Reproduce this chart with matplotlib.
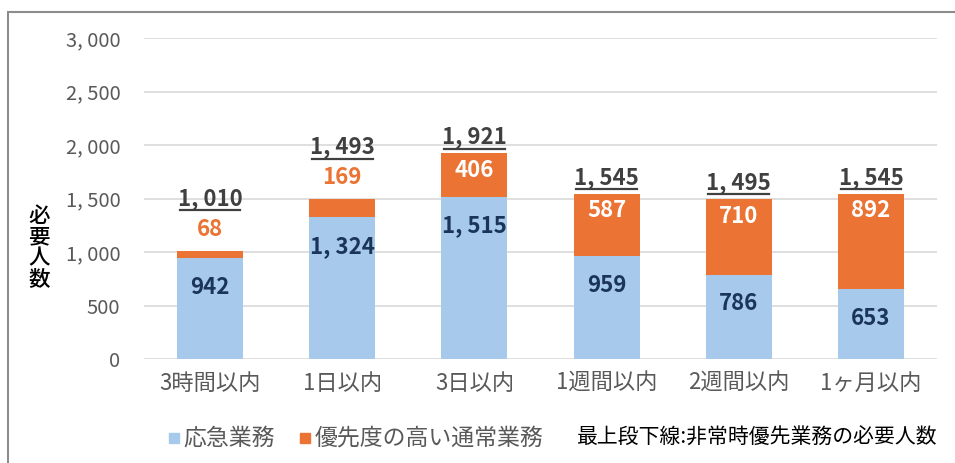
import matplotlib
matplotlib.use("Agg")
import matplotlib.pyplot as plt
from matplotlib.patches import Rectangle

plt.rcParams['font.family'] = ['Noto Sans CJK JP', 'DejaVu Sans']

# データ
categories = ['3時間以内', '1日以内', '3日以内', '1週間以内', '2週間以内', '1ヶ月以内']
kyukyu = [942, 1324, 1515, 959, 786, 653]          # 応急業務
tsujo = [68, 169, 406, 587, 710, 892]              # 優先度の高い通常業務
totals = [1010, 1493, 1921, 1545, 1495, 1545]      # 非常時優先業務の必要人数
yticks = [0, 500, 1000, 1500, 2000, 2500, 3000]

c_blue = '#A6C9EC'
c_orange = '#EB7333'
c_navy = '#1B3558'
c_dark = '#404040'
c_gray = '#595959'

def fmt(v):
    return '{:,}'.format(v).replace(',', ', ')

fig = plt.figure(figsize=(9.55, 4.63), dpi=100)
ax = fig.add_axes([144/955, 1 - 359/463, 793/955, 321/463])

x = list(range(len(categories)))
ax.bar(x, kyukyu, width=0.5, color=c_blue, zorder=2)
ax.bar(x, [t - k for t, k in zip(totals, kyukyu)], width=0.5, bottom=kyukyu,
       color=c_orange, zorder=2)

ax.set_xlim(-0.5, len(categories) - 0.5)
ax.set_ylim(0, 3000)
ax.set_yticks(yticks)
ax.set_yticklabels([fmt(v) for v in yticks], color=c_gray, fontsize=14.5)
ax.set_xticks(x)
ax.set_xticklabels(categories, color=c_gray, fontsize=16)
ax.tick_params(axis='both', length=0)
ax.tick_params(axis='y', pad=17)
ax.tick_params(axis='x', pad=9)
ax.grid(axis='y', color='#D9D9D9', linewidth=1.2, zorder=0)
for s in ax.spines.values():
    s.set_visible(False)

# ラベル
for i in range(len(categories)):
    ax.text(i, kyukyu[i] - 270, fmt(kyukyu[i]), ha='center', va='center',
            fontsize=16, fontweight='bold', color=c_navy, zorder=3)
    if tsujo[i] < 200:
        oy = totals[i] + 200
        ty = totals[i] + 490
        ax.text(i, oy, fmt(tsujo[i]), ha='center', va='center',
                fontsize=16, fontweight='bold', color=c_orange, zorder=3)
    else:
        ty = totals[i] + 155
        ax.text(i, totals[i] - 160, fmt(tsujo[i]), ha='center', va='center',
                fontsize=16, fontweight='bold', color='white', zorder=3)
    ax.text(i, ty, fmt(totals[i]), ha='center', va='center',
            fontsize=16, fontweight='bold', color=c_dark, zorder=3)
    ax.plot([i - 0.23, i + 0.23], [ty - 110, ty - 110], color=c_dark,
            linewidth=1.6, clip_on=False, zorder=3)

# 縦書きの軸ラベル
fig.text(39/955, 1 - 248/463, '必\n要\n人\n数', ha='center', va='center',
         fontsize=15.5, color='black', linespacing=0.95, fontweight='medium')

# 凡例
ly = 1 - 438/463
fig.patches.append(Rectangle((169/955, ly - 5/463), 10/955, 10/463,
                             transform=fig.transFigure, color=c_blue))
fig.text(183/955, ly, '応急業務', ha='left', va='center', fontsize=16.5, color=c_gray)
fig.patches.append(Rectangle((300/955, ly - 5/463), 10/955, 10/463,
                             transform=fig.transFigure, color=c_orange))
fig.text(315/955, ly, '優先度の高い通常業務', ha='left', va='center', fontsize=16.5, color=c_gray)
fig.text(577/955, ly, '最上段下線:非常時優先業務の必要人数', ha='left', va='center',
         fontsize=15, color='black', fontweight='normal')

# 外枠
fig.patches.append(Rectangle((8/955, -0.05), 1.0, 1 - 12/463 + 0.05,
                             transform=fig.transFigure, fill=False,
                             edgecolor='#8C8C8C', linewidth=1.5))

fig.savefig('out.png', dpi=100)
